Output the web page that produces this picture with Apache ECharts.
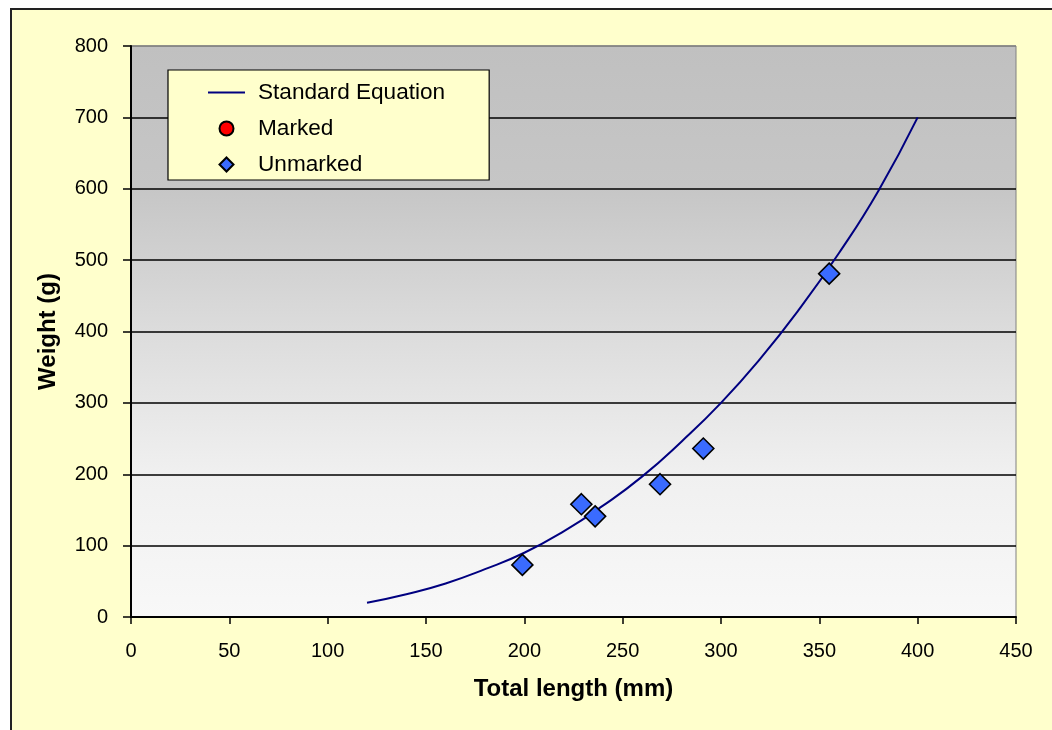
<!DOCTYPE html>
<html>
<head>
<meta charset="utf-8">
<script src="https://cdn.jsdelivr.net/npm/echarts@6/dist/echarts.min.js"></script>
<style>
  html, body { margin: 0; padding: 0; background: #ffffff; }
  #frame { position: absolute; left: 10px; top: 8px; width: 1100px; height: 800px;
           background: #FFFFCC; border-left: 2px solid #222; border-top: 2px solid #222; }
  #chart { position: absolute; left: 0; top: 0; width: 1052px; height: 730px; }
</style>
</head>
<body>
<div id="frame"></div>
<div id="chart"></div>
<script>
// Standard length-weight curve (total length mm, weight g)
const curveLength = [120, 140, 160, 180, 200, 220, 240, 260, 280, 300, 320, 340, 360, 380, 400];
const curveWeight = [20, 32, 47, 67, 90, 120, 156, 197, 246, 300, 362, 432, 510, 597, 700];

// Measured fish
const markedLength = [];
const markedWeight = [];
const unmarkedLength = [199, 229, 236, 269, 291, 355];
const unmarkedWeight = [73, 158, 141, 186, 236, 481];

const xTicks = [0, 50, 100, 150, 200, 250, 300, 350, 400, 450];
const yTicks = [0, 100, 200, 300, 400, 500, 600, 700, 800];

const zip = (xs, ys) => xs.map((x, i) => [x, ys[i]]);

const chart = echarts.init(document.getElementById('chart'));
const font = '"Liberation Sans", Arial, sans-serif';

chart.setOption({
  backgroundColor: 'transparent',
  animation: false,
  textStyle: { fontFamily: font },
  grid: {
    left: 131, top: 46, right: 36, bottom: 113,
    show: true,
    borderColor: '#808080',
    borderWidth: 1,
    backgroundColor: {
      type: 'linear', x: 0, y: 0, x2: 0, y2: 1,
      colorStops: [
        { offset: 0, color: '#C0C0C0' },
        { offset: 0.25, color: '#C6C6C6' },
        { offset: 0.5, color: '#DCDCDC' },
        { offset: 0.75, color: '#F0F0F0' },
        { offset: 1, color: '#F8F8F8' }
      ]
    }
  },
  legend: {
    orient: 'vertical',
    left: 168, top: 70,
    padding: [11, 44, 4, 40],
    itemGap: 13,
    itemWidth: 37,
    itemHeight: 14,
    backgroundColor: '#FFFFCC',
    borderColor: '#000',
    borderWidth: 1.2,
    textStyle: { fontSize: 22.6, color: '#000', fontFamily: font, padding: [0, 0, 0, 8] },
    data: [
      { name: 'Standard Equation', icon: 'path://M0,0h37v1.8h-37z' },
      { name: 'Marked', icon: 'circle' },
      { name: 'Unmarked', icon: 'path://M7,0L14,7L7,14L0,7Z' }
    ]
  },
  xAxis: {
    type: 'value',
    min: xTicks[0], max: xTicks[xTicks.length - 1], interval: 50,
    name: 'Total length (mm)',
    nameLocation: 'middle',
    nameGap: 60,
    nameTextStyle: { fontSize: 24, fontWeight: 'bold', color: '#000', fontFamily: font },
    axisLine: { show: true, lineStyle: { color: '#000', width: 2 } },
    axisTick: { show: true, inside: false, length: 7, lineStyle: { color: '#000', width: 1.5 } },
    axisLabel: { fontSize: 20, color: '#000', margin: 24, fontFamily: font },
    splitLine: { show: false }
  },
  yAxis: {
    type: 'value',
    min: yTicks[0], max: yTicks[yTicks.length - 1], interval: 100,
    name: 'Weight (g)',
    nameLocation: 'middle',
    nameGap: 71,
    nameRotate: 90,
    nameTextStyle: { fontSize: 24, fontWeight: 'bold', color: '#000', fontFamily: font },
    axisLine: { show: true, lineStyle: { color: '#000', width: 2 } },
    axisTick: { show: true, inside: false, length: 8, lineStyle: { color: '#000', width: 1.5 } },
    axisLabel: { fontSize: 20, color: '#000', margin: 23, fontFamily: font },
    splitLine: {
      show: true,
      lineStyle: {
        width: 1.5,
        color: ['#000', '#000', '#000', '#000', '#000', '#000', '#000', '#000', '#808080']
      }
    }
  },
  series: [
    {
      name: 'Standard Equation',
      type: 'line',
      data: zip(curveLength, curveWeight),
      smooth: true,
      showSymbol: false,
      symbol: 'none',
      lineStyle: { color: '#000080', width: 2 },
      itemStyle: { color: '#000080' },
      z: 3
    },
    {
      name: 'Marked',
      type: 'scatter',
      data: zip(markedLength, markedWeight),
      symbol: 'circle',
      symbolSize: 14,
      itemStyle: { color: '#FF0000', opacity: 1, borderColor: '#000', borderWidth: 1.2 }
    },
    {
      name: 'Unmarked',
      type: 'scatter',
      data: zip(unmarkedLength, unmarkedWeight),
      symbol: 'diamond',
      symbolSize: [21, 21],
      itemStyle: { color: '#3A6BFF', opacity: 1, borderColor: '#000', borderWidth: 1.6 },
      z: 4
    }
  ]
});
</script>
</body>
</html>
